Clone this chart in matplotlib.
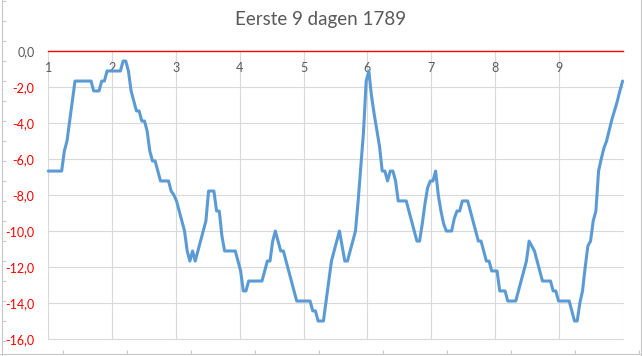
import numpy as np
import matplotlib
matplotlib.use("Agg")
import matplotlib.pyplot as plt

# ---------------- data (hourly temperatures, degrees C) ----------------
title = "Eerste 9 dagen 1789"
day_labels = ["1", "2", "3", "4", "5", "6", "7", "8", "9", ""]
day_ticks = [1, 2, 3, 4, 5, 6, 7, 8, 9, 10]
y_ticks = [0, -2, -4, -6, -8, -10, -12, -14, -16]
y_tick_labels = ["0,0", "-2,0", "-4,0", "-6,0", "-8,0", "-10,0", "-12,0", "-14,0", "-16,0"]

temps_day1 = [-6.67, -6.67, -6.67, -6.67, -6.67, -6.67, -5.56, -5.0, -3.89, -2.78,
              -1.67, -1.67, -1.67, -1.67, -1.67, -1.67, -1.67, -2.22, -2.22, -2.22,
              -1.67, -1.67, -1.11, -1.11]
temps_day2 = [-1.11, -1.11, -1.11, -1.11, -0.56, -0.56, -1.11, -2.22, -2.78, -3.33,
              -3.33, -3.89, -3.89, -4.44, -5.56, -6.11, -6.11, -6.67, -7.22, -7.22,
              -7.22, -7.22, -7.78, -8.0]
temps_day3 = [-8.33, -8.89, -9.44, -10.0, -11.11, -11.67, -11.11, -11.67, -11.11, -10.56,
              -10.0, -9.44, -7.78, -7.78, -7.78, -8.89, -8.89, -10.28, -11.11, -11.11,
              -11.11, -11.11, -11.11, -11.67]
temps_day4 = [-12.22, -13.33, -13.33, -12.78, -12.78, -12.78, -12.78, -12.78, -12.78, -12.22,
              -11.67, -11.67, -10.56, -10.0, -10.56, -11.11, -11.11, -11.67, -12.22, -12.78,
              -13.33, -13.89, -13.89, -13.89]
temps_day5 = [-13.89, -13.89, -13.89, -14.44, -14.44, -15.0, -15.0, -15.0, -13.89, -12.78,
              -11.67, -11.11, -10.56, -10.0, -10.83, -11.67, -11.67, -11.11, -10.56, -10.0,
              -8.33, -6.4, -4.5, -1.67]
temps_day6 = [-1.11, -2.5, -3.5, -4.4, -5.3, -6.67, -6.67, -7.22, -6.67, -6.67,
              -7.22, -8.33, -8.33, -8.33, -8.33, -8.89, -9.44, -10.0, -10.56, -10.56,
              -9.6, -8.5, -7.6, -7.22]
temps_day7 = [-7.22, -6.67, -8.0, -8.89, -9.6, -10.0, -10.0, -10.0, -9.3, -8.89,
              -8.89, -8.33, -8.33, -8.33, -8.89, -9.44, -10.0, -10.56, -10.56, -11.11,
              -11.67, -11.67, -12.22, -12.22]
temps_day8 = [-12.22, -13.33, -13.33, -13.33, -13.89, -13.89, -13.89, -13.89, -13.33, -12.78,
              -12.22, -11.67, -10.56, -10.83, -11.11, -11.67, -12.22, -12.78, -12.78, -12.78,
              -12.78, -13.33, -13.33, -13.89]
temps_day9 = [-13.89, -13.89, -13.89, -13.89, -14.44, -15.0, -15.0, -14.0, -13.33, -12.0,
              -10.83, -10.56, -9.44, -8.89, -6.67, -6.0, -5.4, -5.0, -4.4, -3.8,
              -3.3, -2.8, -2.2, -1.67]

temps = (temps_day1 + temps_day2 + temps_day3 + temps_day4 + temps_day5
         + temps_day6 + temps_day7 + temps_day8 + temps_day9)

# ---------------- styling ----------------
plt.rcParams["font.family"] = ["Lato", "DejaVu Sans"]
W, H = 642, 356
fig = plt.figure(figsize=(W / 100, H / 100), dpi=100)
fig.patch.set_facecolor("white")

# faint frame of the surrounding sheet
bg = fig.add_axes([0, 0, 1, 1])
bg.set_xlim(0, W)
bg.set_ylim(H, 0)
bg.patch.set_visible(False)
bg.spines["top"].set_visible(False)
bg.spines["left"].set_position(("data", 1.7))
bg.spines["bottom"].set_position(("data", 354))
bg.spines["right"].set_position(("data", 640.7))
for s in ("left", "bottom", "right"):
    bg.spines[s].set_color("#c8c8c8")
    bg.spines[s].set_linewidth(0.8)
bg.set_xticks(np.arange(63.3, W, 64))
bg.set_yticks(np.arange(0.7, H, 20))
bg.tick_params(axis="both", direction="in", length=3, color="#c8c8c8",
               labelbottom=False, labelleft=False, left=True, bottom=True, right=False)
bg2 = bg.twinx()
bg2.set_ylim(H, 0)
for s in ("top", "left", "bottom", "right"):
    bg2.spines[s].set_visible(False)
bg2.set_yticks(np.arange(0.7, H, 10))
bg2.tick_params(axis="y", direction="out", length=2, color="#c8c8c8", labelright=False)

# main plot area
x0, x1 = 48.3, 622.6
y_top, y_bot = 51, 339
ax = fig.add_axes([x0 / W, 1 - y_bot / H, (x1 - x0) / W, (y_bot - y_top) / H])
ax.patch.set_visible(False)

x = np.linspace(day_ticks[0], day_ticks[-1], len(temps))
ax.plot(x, temps, color="#5B9BD5", lw=2.2, solid_joinstyle="round",
        solid_capstyle="round", zorder=3, clip_on=False)

ax.set_xlim(day_ticks[0], day_ticks[-1])
ax.set_ylim(y_ticks[-1], y_ticks[0])
ax.set_xticks(day_ticks)
ax.set_xticklabels(day_labels)
ax.set_yticks(y_ticks)
ax.set_yticklabels(y_tick_labels)

ax.grid(True, color="#D9D9D9", lw=0.8, zorder=0)
for gl in ax.get_xgridlines() + ax.get_ygridlines():
    gl.set_clip_on(False)
for val, gl in zip(y_ticks, ax.get_ygridlines()):
    if val == 0:
        gl.set_visible(False)
ax.set_axisbelow(True)

for s in ("left", "right", "top"):
    ax.spines[s].set_visible(False)
ax.spines["bottom"].set_position(("data", 0))
ax.spines["bottom"].set_color("none")
# red horizontal axis line at zero
ax.axhline(y_ticks[0], color="#FF0000", lw=1.0, zorder=2.5, clip_on=False)

ax.tick_params(axis="x", length=0, pad=8, labelsize=9, labelcolor="#595959")
ax.tick_params(axis="y", length=0, pad=10, labelsize=9)
for val, lbl in zip(y_ticks, ax.get_yticklabels()):
    lbl.set_color("#595959" if val == 0 else "#FF0000")

fig.text(0.5, 1 - 20 / H, title, ha="center", va="center", fontsize=13.5, color="#595959")

fig.savefig("out.png", dpi=100, facecolor="white")
